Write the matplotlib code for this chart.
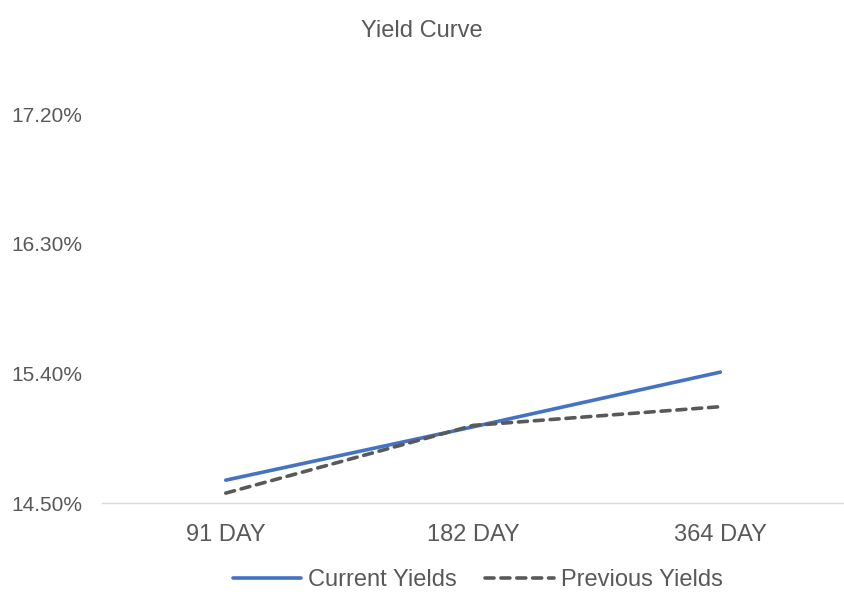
import matplotlib
matplotlib.use("Agg")
import matplotlib.pyplot as plt
from matplotlib.ticker import FuncFormatter

tenors = ["91 DAY", "182 DAY", "364 DAY"]
current_yields = [14.66, 15.03, 15.41]
previous_yields = [14.57, 15.04, 15.17]
y_ticks = [14.50, 15.40, 16.30, 17.20]

plt.rcParams["font.family"] = ["Liberation Sans", "DejaVu Sans"]
text_col = "#595959"

fig = plt.figure(figsize=(8.44, 5.92), dpi=100)
ax = fig.add_axes([0.121, 0.150, 0.879, 0.657])

x = range(len(tenors))
ax.plot(x, current_yields, color="#4472C4", lw=2.6, label="Current Yields",
        solid_capstyle="round")
ax.plot(x, previous_yields, color="#595959", lw=2.6, ls=(0, (2.5, 1.9)),
        label="Previous Yields", dash_capstyle="round")

ax.set_xlim(-0.5, 2.5)
ax.set_ylim(14.5, 17.2)
ax.set_yticks(y_ticks)
ax.yaxis.set_major_formatter(FuncFormatter(lambda v, p: f"{v:.2f}%"))
ax.set_xticks(list(x))
ax.set_xticklabels(tenors)

for s in ["top", "right", "left"]:
    ax.spines[s].set_visible(False)
ax.spines["bottom"].set_color("#D9D9D9")
ax.spines["bottom"].set_linewidth(1.0)
ax.tick_params(axis="both", length=0, colors=text_col)
ax.tick_params(axis="y", pad=14, labelsize=15)
ax.tick_params(axis="x", pad=15, labelsize=17)

fig.text(0.5, 0.947, "Yield Curve", ha="center", va="center", fontsize=17,
         color=text_col)

leg = fig.legend(loc="center", bbox_to_anchor=(0.566, 0.020), ncol=2,
                 frameon=False, fontsize=17, handlelength=2.9,
                 handletextpad=0.3, columnspacing=1.2)
for t in leg.get_texts():
    t.set_color(text_col)

fig.savefig("out.png", dpi=100)
